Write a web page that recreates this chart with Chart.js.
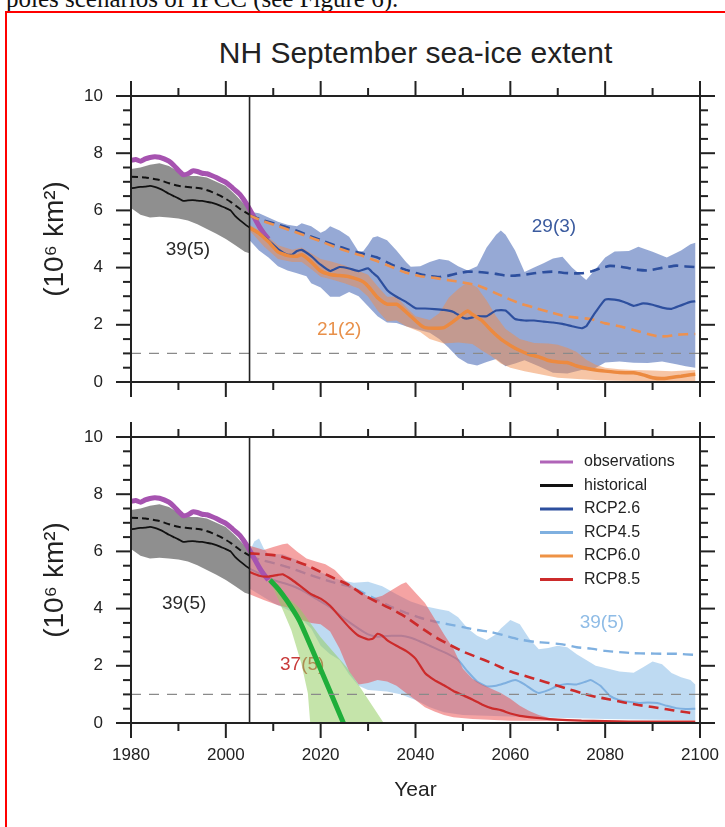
<!DOCTYPE html>
<html>
<head>
<meta charset="utf-8">
<script src="https://cdn.jsdelivr.net/npm/chart.js@4.4.1/dist/chart.umd.min.js"></script>
<style>
  html, body { margin: 0; padding: 0; background: #fff; }
  #page { position: relative; width: 725px; height: 827px; overflow: hidden; font-family: 'Liberation Sans', Arial, sans-serif; }
  #lead { position: absolute; left: 6px; top: -15px; font: 25px 'Liberation Serif', 'Times New Roman', serif; white-space: nowrap; color: #111; }
  #box { position: absolute; left: 5px; top: 11px; width: 780px; height: 880px; border: 2px solid #f00; box-sizing: border-box; }
  #title { position: absolute; left: 131px; width: 569px; top: 36px; text-align: center; font-size: 30px; color: #222; }
  canvas { position: absolute; left: 0; }
</style>
</head>
<body>
<div id="page">
  <div id="lead">poles scenarios of IPCC (see Figure 6).</div>
  <div id="box"></div>
  <div id="title">NH September sea-ice extent</div>
  <canvas id="topPanel" width="725" height="420" style="top:0"></canvas>
  <canvas id="bottomPanel" width="725" height="407" style="top:420px"></canvas>
</div>
<script>
// --- axis labels ---
const yearLabels = [1980, 2000, 2020, 2040, 2060, 2080, 2100];
const extentLabels = [0, 2, 4, 6, 8, 10];

// --- observations and historical runs (10^6 km^2) ---
const observations = [[1980,7.75],[1981,7.78],[1982,7.72],[1983,7.8],[1984,7.85],[1985,7.88],[1986,7.86],[1987,7.8],[1988,7.72],[1989,7.58],[1990,7.4],[1991,7.25],[1992,7.28],[1993,7.38],[1994,7.36],[1995,7.3],[1996,7.28],[1997,7.22],[1998,7.15],[1999,7.06],[2000,6.98],[2001,6.85],[2002,6.7],[2003,6.55],[2004,6.32],[2005,6.05],[2006,5.75],[2007,5.45],[2008,5.2],[2009,5.0]];
const histSubset = [[1980,6.77],[1981,6.8],[1982,6.82],[1983,6.83],[1984,6.86],[1985,6.82],[1986,6.76],[1987,6.68],[1988,6.58],[1989,6.5],[1990,6.42],[1991,6.33],[1992,6.35],[1993,6.36],[1994,6.34],[1995,6.33],[1996,6.3],[1997,6.27],[1998,6.22],[1999,6.15],[2000,6.08],[2001,6.0],[2002,5.8],[2003,5.65],[2004,5.52],[2005,5.4]];
const histAll = [[1980,7.18],[1983,7.15],[1986,7.06],[1988,6.95],[1990,6.86],[1993,6.8],[1995,6.76],[1997,6.65],[1999,6.5],[2001,6.3],[2003,6.05],[2005,5.85]];
const histHigh = [[1980,7.45],[1982,7.5],[1984,7.6],[1986,7.65],[1988,7.55],[1990,7.35],[1992,7.2],[1994,7.2],[1996,7.15],[1998,7.0],[2000,6.85],[2002,6.55],[2004,6.2],[2005,6.0]];
const histLow = [[1980,6.08],[1982,5.85],[1984,5.75],[1986,5.78],[1988,5.75],[1990,5.72],[1992,5.65],[1994,5.52],[1996,5.35],[1998,5.18],[2000,5.0],[2002,4.78],[2004,4.55],[2005,4.5]];

// --- RCP2.6 ---
const rcp26Subset = [[2005,5.4],[2007,5.2],[2009,4.95],[2011,4.65],[2013,4.45],[2014,4.45],[2015,4.58],[2016,4.62],[2018,4.4],[2020,4.1],[2022,3.88],[2024,4.02],[2026,3.97],[2028,3.88],[2030,3.97],[2031,3.82],[2032,3.68],[2034,3.22],[2036,2.98],[2038,2.8],[2040,2.58],[2042,2.57],[2044,2.55],[2046,2.52],[2048,2.45],[2050,2.25],[2051,2.22],[2053,2.3],[2055,2.3],[2057,2.5],[2059,2.5],[2061,2.2],[2063,2.15],[2065,2.15],[2067,2.11],[2069,2.08],[2071,2.03],[2073,1.95],[2075,1.88],[2076,1.95],[2077,2.2],[2078,2.45],[2080,2.88],[2082,2.88],[2084,2.8],[2086,2.66],[2088,2.75],[2090,2.7],[2092,2.6],[2094,2.56],[2096,2.68],[2098,2.8],[2099,2.82]];
const rcp26All = [[2005,5.82],[2008,5.65],[2011,5.5],[2014,5.35],[2017,5.15],[2020,4.96],[2023,4.78],[2026,4.62],[2029,4.48],[2032,4.35],[2035,4.1],[2038,3.92],[2041,3.77],[2043,3.7],[2045,3.67],[2047,3.72],[2049,3.8],[2051,3.86],[2053,3.85],[2055,3.82],[2057,3.78],[2059,3.72],[2061,3.72],[2063,3.75],[2065,3.8],[2067,3.84],[2069,3.86],[2071,3.82],[2073,3.8],[2075,3.8],[2077,3.86],[2079,3.98],[2081,4.06],[2083,4.04],[2085,3.98],[2087,3.92],[2089,3.9],[2091,3.96],[2093,4.02],[2095,4.07],[2097,4.04],[2099,4.02]];
const rcp26High = [[2005,5.95],[2007,5.9],[2009,5.75],[2011,5.6],[2013,5.5],[2015,5.45],[2016,5.55],[2018,5.45],[2020,5.22],[2021,5.3],[2022,5.45],[2024,5.3],[2026,5.08],[2028,4.55],[2029,4.58],[2030,4.8],[2031,5.05],[2032,5.1],[2034,4.96],[2036,4.6],[2038,4.2],[2039,4.03],[2041,4.05],[2043,4.2],[2045,4.3],[2047,4.25],[2049,4.05],[2051,3.9],[2053,4.05],[2055,4.7],[2057,5.15],[2058,5.3],[2059,5.15],[2061,4.6],[2063,3.85],[2065,4.0],[2067,4.15],[2069,4.32],[2071,4.38],[2073,4.0],[2076,3.57],[2078,3.95],[2080,4.35],[2082,4.56],[2085,4.58],[2087,4.73],[2090,4.55],[2093,4.35],[2096,4.6],[2098,4.82],[2099,4.87]];
const rcp26Low = [[2005,4.96],[2007,4.6],[2009,4.35],[2011,4.05],[2013,3.9],[2015,3.8],[2017,3.7],[2018,3.45],[2020,3.3],[2022,2.98],[2024,2.98],[2026,3.15],[2028,3.0],[2030,2.65],[2032,2.3],[2034,2.08],[2036,2.06],[2038,1.95],[2040,1.85],[2043,1.72],[2045,1.5],[2047,1.2],[2049,0.85],[2051,0.65],[2053,0.58],[2055,0.7],[2057,0.8],[2059,0.55],[2061,0.65],[2063,0.76],[2066,0.55],[2069,0.32],[2072,0.3],[2075,0.42],[2077,0.4],[2080,0.68],[2083,0.72],[2086,0.67],[2089,0.66],[2092,0.72],[2095,0.62],[2097,0.55],[2099,0.5]];

// --- RCP6.0 ---
const rcp60Subset = [[2005,5.4],[2007,5.2],[2009,4.9],[2011,4.55],[2013,4.42],[2015,4.4],[2016,4.45],[2018,4.2],[2020,3.88],[2022,3.76],[2024,3.72],[2026,3.68],[2028,3.58],[2029,3.5],[2030,3.35],[2031,3.15],[2032,2.95],[2034,2.72],[2036,2.72],[2037,2.6],[2039,2.3],[2041,2.0],[2042,1.9],[2044,1.88],[2046,1.9],[2048,2.12],[2050,2.38],[2051,2.48],[2052,2.36],[2054,2.15],[2056,1.8],[2058,1.5],[2060,1.28],[2062,1.1],[2064,0.96],[2066,0.88],[2068,0.75],[2070,0.7],[2072,0.68],[2074,0.56],[2076,0.48],[2078,0.42],[2080,0.38],[2083,0.33],[2086,0.32],[2088,0.25],[2090,0.15],[2092,0.12],[2094,0.16],[2096,0.2],[2098,0.25],[2099,0.27]];
const rcp60All = [[2005,5.82],[2008,5.62],[2011,5.45],[2014,5.28],[2017,5.1],[2020,4.92],[2023,4.72],[2026,4.55],[2029,4.4],[2032,4.22],[2035,4.02],[2038,3.82],[2041,3.7],[2044,3.64],[2047,3.56],[2050,3.48],[2053,3.38],[2055,3.25],[2057,3.1],[2060,2.88],[2062,2.75],[2065,2.6],[2068,2.46],[2071,2.32],[2074,2.25],[2077,2.2],[2080,2.05],[2083,1.95],[2086,1.82],[2089,1.68],[2091,1.6],[2093,1.6],[2095,1.65],[2097,1.67],[2099,1.68]];
const rcp60High = [[2005,5.5],[2008,5.2],[2011,4.78],[2014,4.62],[2016,4.7],[2018,4.5],[2020,4.3],[2022,4.22],[2025,4.08],[2028,3.88],[2030,3.75],[2032,3.35],[2034,2.98],[2036,2.98],[2038,2.62],[2040,2.3],[2043,2.17],[2045,2.4],[2047,2.95],[2049,3.25],[2051,3.5],[2053,3.3],[2055,2.85],[2057,2.3],[2059,1.85],[2062,1.5],[2065,1.36],[2068,1.35],[2070,1.3],[2072,1.2],[2074,1.05],[2076,0.78],[2078,0.6],[2080,0.5],[2083,0.45],[2086,0.42],[2090,0.4],[2094,0.38],[2097,0.4],[2099,0.42]];
const rcp60Low = [[2005,5.3],[2008,4.75],[2011,4.3],[2014,4.2],[2016,4.2],[2018,3.95],[2020,3.68],[2022,3.6],[2025,3.45],[2028,3.28],[2030,2.98],[2032,2.5],[2034,2.12],[2036,2.15],[2038,1.95],[2041,1.75],[2043,1.5],[2046,1.35],[2049,1.38],[2052,1.33],[2054,1.1],[2056,0.9],[2058,0.65],[2060,0.5],[2063,0.38],[2066,0.28],[2070,0.15],[2075,0.1],[2080,0.05],[2090,0.03],[2099,0.03]];

// --- RCP4.5 ---
const rcp45Subset = [[2005,5.4],[2008,5.15],[2010,5.0],[2013,4.85],[2016,4.65],[2019,4.35],[2022,4.05],[2025,3.65],[2028,3.3],[2030,3.1],[2032,3.02],[2035,3.05],[2037,3.05],[2039,2.98],[2041,2.85],[2043,2.7],[2045,2.55],[2047,2.4],[2049,2.2],[2051,1.8],[2053,1.45],[2055,1.28],[2057,1.3],[2059,1.4],[2061,1.5],[2063,1.35],[2065,1.12],[2066,1.05],[2068,1.15],[2070,1.3],[2072,1.36],[2074,1.35],[2076,1.45],[2077,1.5],[2079,1.3],[2081,0.95],[2083,0.8],[2085,0.74],[2087,0.7],[2089,0.72],[2091,0.7],[2093,0.6],[2095,0.52],[2097,0.49],[2099,0.5]];
const rcp45All = [[2005,5.82],[2008,5.68],[2011,5.55],[2014,5.4],[2017,5.22],[2020,5.05],[2023,4.9],[2026,4.78],[2029,4.55],[2032,4.3],[2035,4.05],[2038,3.85],[2041,3.68],[2044,3.55],[2047,3.45],[2050,3.35],[2053,3.25],[2056,3.18],[2059,3.05],[2062,2.92],[2065,2.84],[2068,2.8],[2071,2.75],[2074,2.65],[2077,2.6],[2080,2.52],[2083,2.48],[2086,2.44],[2089,2.43],[2092,2.42],[2095,2.42],[2099,2.38]];
const rcp45High = [[2005,6.0],[2006,6.35],[2007,6.45],[2008,6.1],[2009,5.9],[2012,5.9],[2015,5.7],[2018,5.4],[2021,5.2],[2024,5.0],[2027,4.9],[2030,4.94],[2033,4.78],[2036,4.5],[2039,4.25],[2042,4.08],[2045,3.98],[2047,3.92],[2049,3.7],[2051,3.3],[2053,3.05],[2055,2.9],[2057,3.1],[2058,3.3],[2060,3.6],[2062,3.45],[2064,2.95],[2066,2.58],[2068,2.62],[2070,2.7],[2072,2.65],[2074,2.4],[2076,2.2],[2078,2.0],[2080,1.92],[2083,1.8],[2086,1.76],[2088,1.95],[2090,2.15],[2092,2.05],[2094,1.75],[2096,1.6],[2098,1.5],[2099,1.35]];
const rcp45Low = [[2005,4.7],[2010,4.2],[2015,3.8],[2018,3.3],[2020,2.7],[2022,2.4],[2024,2.2],[2026,1.7],[2028,1.3],[2030,1.15],[2034,1.1],[2037,1.0],[2040,0.8],[2043,0.55],[2046,0.38],[2050,0.28],[2055,0.25],[2065,0.2],[2080,0.14],[2099,0.1]];

// --- RCP8.5 ---
const rcp85Subset = [[2005,5.28],[2007,5.15],[2009,5.12],[2011,5.18],[2012,5.2],[2014,5.0],[2016,4.75],[2018,4.5],[2020,4.35],[2022,4.1],[2024,3.72],[2026,3.35],[2028,3.05],[2030,2.92],[2031,2.95],[2032,3.12],[2033,3.05],[2034,2.9],[2036,2.7],[2038,2.52],[2040,2.25],[2042,1.75],[2044,1.5],[2046,1.32],[2048,1.12],[2050,0.97],[2052,0.82],[2054,0.65],[2056,0.52],[2058,0.45],[2060,0.33],[2062,0.25],[2065,0.19],[2069,0.13],[2075,0.08],[2085,0.05],[2099,0.05]];
const rcp85All = [[2005,5.93],[2008,5.9],[2011,5.85],[2014,5.7],[2017,5.52],[2020,5.28],[2023,5.05],[2026,4.82],[2029,4.48],[2032,4.22],[2035,3.98],[2038,3.7],[2041,3.35],[2044,3.02],[2047,2.75],[2050,2.5],[2053,2.3],[2056,2.1],[2058,1.95],[2060,1.8],[2063,1.65],[2066,1.5],[2069,1.35],[2072,1.2],[2075,1.05],[2078,0.92],[2081,0.82],[2084,0.72],[2087,0.63],[2090,0.56],[2093,0.48],[2096,0.4],[2099,0.33]];
const rcp85High = [[2005,6.2],[2007,6.1],[2008,6.05],[2010,6.15],[2012,6.25],[2013,6.28],[2015,6.0],[2017,5.75],[2019,5.65],[2021,5.55],[2023,5.35],[2025,5.0],[2027,4.75],[2029,4.52],[2031,4.35],[2033,4.45],[2035,4.65],[2037,4.85],[2038,4.92],[2040,4.55],[2042,4.2],[2044,3.65],[2046,3.1],[2048,2.6],[2050,1.9],[2052,1.55],[2054,1.35],[2056,1.2],[2058,1.05],[2060,0.85],[2062,0.6],[2064,0.42],[2066,0.28],[2068,0.18],[2072,0.1],[2080,0.08],[2099,0.06]];
const rcp85Low = [[2005,4.5],[2008,4.3],[2011,4.12],[2014,4.0],[2016,3.6],[2018,3.5],[2020,3.45],[2022,3.2],[2024,2.6],[2026,1.8],[2028,1.35],[2030,1.4],[2032,1.5],[2034,1.45],[2036,1.3],[2038,1.05],[2040,0.8],[2042,0.55],[2044,0.4],[2046,0.28],[2048,0.2],[2052,0.14],[2060,0.08],[2099,0.05]];

// --- observation-based extrapolation (green) ---
const obsTrend = [[2009.3,5.0],[2011,4.7],[2013,4.25],[2015.6,3.55],[2020.2,1.8],[2024.8,0]];
const obsTrendHigh = [[2009.3,5.0],[2012,4.55],[2015.6,4.0],[2020,3.0],[2025.5,1.95],[2029.5,0.95],[2033.3,0]];
const obsTrendLow = [[2009.3,5.0],[2011.7,4.07],[2013.8,3.25],[2015.9,2.1],[2017.3,1.04],[2017.8,0]];

// --- model counts printed on the panels ---
const notesTop = [
  {text: '39(5)', year: 1992.0, value: 4.62, color: '#2a2a2a'},
  {text: '21(2)', year: 2023.9, value: 1.82, color: '#e8904a'},
  {text: '29(3)', year: 2069.2, value: 5.42, color: '#3b5b9f'}
];
const notesBottom = [
  {text: '39(5)', year: 1991.2, value: 4.16, color: '#2a2a2a'},
  {text: '37(5)', year: 2016.1, value: 2.03, color: '#c93a3a'},
  {text: '39(5)', year: 2079.3, value: 3.5, color: '#8fbce6'}
];
const legendNames = ['observations', 'historical', 'RCP2.6', 'RCP4.5', 'RCP6.0', 'RCP8.5'];
const legendColors = ['#b064b8', '#111111', '#2d4f9e', '#7fb0e0', '#ee9245', '#cc2b2b'];

const FONT = "'Liberation Sans', Arial, sans-serif";

const pts = arr => arr.map(([x, y]) => ({x, y}));
const line = (arr, color, width, dash) => ({
  data: pts(arr), borderColor: color, borderWidth: width, borderDash: dash || [],
  pointRadius: 0, fill: false, tension: 0.15
});
const band = (high, low, color) => ({
  data: pts(high.concat(low.slice().reverse())), backgroundColor: color,
  borderWidth: 0, pointRadius: 0, fill: 'shape', tension: 0
});
// first in list = painted first (bottom)
const stack = list => list.map((d, i) => Object.assign(d, {order: list.length - i}));

// frame, outward ticks, 2005 divider and the 1 million km2 reference
const frameTicks = {
  id: 'frameTicks',
  afterDraw(chart) {
    const {ctx, chartArea: a, scales: {x, y}} = chart;
    const seg = (x0, y0, x1, y1) => { ctx.beginPath(); ctx.moveTo(x0, y0); ctx.lineTo(x1, y1); ctx.stroke(); };
    ctx.save();
    ctx.strokeStyle = '#8a8a8a'; ctx.lineWidth = 1.3; ctx.setLineDash([10, 8]);
    seg(a.left, y.getPixelForValue(1), a.right, y.getPixelForValue(1));
    ctx.setLineDash([]);
    ctx.strokeStyle = '#222'; ctx.lineWidth = 1.6;
    seg(x.getPixelForValue(2005), a.top, x.getPixelForValue(2005), a.bottom);
    ctx.lineWidth = 2;
    ctx.strokeRect(a.left, a.top, a.right - a.left, a.bottom - a.top);
    const xs = [];
    yearLabels.forEach((v, i) => {
      xs.push([v, 15]);
      if (i < yearLabels.length - 1) xs.push([(v + yearLabels[i + 1]) / 2, 8]);
    });
    xs.forEach(([v, len]) => {
      const px = x.getPixelForValue(v);
      seg(px, a.top, px, a.top - len);
      seg(px, a.bottom, px, a.bottom + len);
    });
    const ys = [];
    extentLabels.forEach((v, i) => {
      ys.push([v, 15]);
      if (i < extentLabels.length - 1) {
        const step = (extentLabels[i + 1] - v) / 4;
        for (let k = 1; k < 4; k++) ys.push([v + k * step, 8]);
      }
    });
    ys.forEach(([v, len]) => {
      const py = y.getPixelForValue(v);
      seg(a.left, py, a.left - len, py);
      seg(a.right, py, a.right + len, py);
    });
    ctx.restore();
  }
};

const notes = {
  id: 'notes',
  beforeDatasetsDraw(chart, args, opts) {
    const {ctx, scales: {x, y}} = chart;
    ctx.save();
    ctx.font = '19px ' + FONT;
    ctx.textAlign = 'center';
    ctx.textBaseline = 'middle';
    (opts.items || []).forEach(n => {
      ctx.fillStyle = n.color;
      ctx.fillText(n.text, x.getPixelForValue(n.year), y.getPixelForValue(n.value));
    });
    ctx.restore();
  }
};

const keyBox = {
  id: 'keyBox',
  afterDraw(chart, args, opts) {
    if (!opts.show) return;
    const {ctx, chartArea: a} = chart;
    ctx.save();
    ctx.font = '16px ' + FONT;
    ctx.textBaseline = 'middle';
    ctx.lineWidth = 3;
    legendNames.forEach((name, i) => {
      const yy = a.top + 25 + i * 23.5;
      ctx.strokeStyle = legendColors[i];
      ctx.beginPath(); ctx.moveTo(a.right - 160, yy); ctx.lineTo(a.right - 127, yy); ctx.stroke();
      ctx.fillStyle = '#222';
      ctx.fillText(name, a.right - 116, yy);
    });
    ctx.restore();
  }
};

function scalesFor(bottom, xHeight) {
  return {
    x: {
      type: 'linear', min: 1980, max: 2100,
      afterFit: s => { s.height = xHeight; s.paddingLeft = 0; s.paddingRight = 0; },
      afterBuildTicks: s => { s.ticks = yearLabels.map(v => ({value: v})); },
      grid: {display: false, drawTicks: false},
      border: {display: false},
      ticks: {display: bottom, padding: 22, color: '#222', font: {family: FONT, size: 17},
              maxRotation: 0, autoSkip: false, callback: v => String(v)},
      title: {display: bottom, text: 'Year', color: '#222', font: {family: FONT, size: 21},
              padding: {top: 0, bottom: 24}}
    },
    y: {
      min: 0, max: 10,
      afterFit: s => { s.width = 131; s.paddingTop = 0; s.paddingBottom = 0; },
      afterBuildTicks: s => { s.ticks = extentLabels.map(v => ({value: v})); },
      grid: {display: false, drawTicks: false},
      border: {display: false},
      ticks: {padding: 28, color: '#222', font: {family: FONT, size: 17}, callback: v => String(v)},
      title: {display: true, text: '(10\u2076 km\u00b2)', color: '#222', font: {family: FONT, size: 28},
              padding: {top: 38, bottom: 0}}
    }
  };
}

function baseOptions(bottom, padTop, xHeight, items) {
  return {
    responsive: false, animation: false, devicePixelRatio: 1, events: [],
    layout: {padding: {top: padTop, right: 25, bottom: 0, left: 0}},
    scales: scalesFor(bottom, xHeight),
    plugins: {legend: {display: false}, tooltip: {enabled: false},
              notes: {items}, keyBox: {show: bottom}}
  };
}

const histLayers = () => [
  line(histAll, '#111', 2, [7, 4]),
  line(histSubset, '#111', 1.8),
  line(observations, '#a653b0', 5)
];

new Chart(document.getElementById('topPanel'), {
  type: 'line',
  data: {datasets: stack([
    band(histHigh, histLow, 'rgba(118,118,118,0.82)'),
    band(rcp26High, rcp26Low, 'rgba(80,112,185,0.6)'),
    band(rcp60High, rcp60Low, 'rgba(240,140,75,0.5)'),
    ...histLayers(),
    line(rcp26All, '#2d4f9e', 2.6, [10, 6]),
    line(rcp60All, '#ec9150', 2.6, [10, 6]),
    line(rcp26Subset, '#2d4f9e', 2.2),
    line(rcp60Subset, '#ec8a40', 3.5)
  ])},
  options: baseOptions(false, 96, 38, notesTop),
  plugins: [notes, frameTicks, keyBox]
});

new Chart(document.getElementById('bottomPanel'), {
  type: 'line',
  data: {datasets: stack([
    band(histHigh, histLow, 'rgba(118,118,118,0.82)'),
    band(rcp45High, rcp45Low, 'rgba(125,182,230,0.5)'),
    line(rcp45All, '#7fb0e0', 2.4, [10, 6]),
    line(rcp45Subset, '#7fb0e0', 2),
    band(rcp85High, rcp85Low, 'rgba(236,72,72,0.5)'),
    ...histLayers(),
    line(rcp85All, '#cc2b2b', 2.6, [10, 6]),
    line(rcp85Subset, '#cc2b2b', 2.2),
    band(obsTrendHigh, obsTrendLow, 'rgba(150,205,100,0.55)'),
    line(obsTrend, '#1fae3a', 5)
  ])},
  options: baseOptions(true, 17, 104, notesBottom),
  plugins: [notes, frameTicks, keyBox]
});
</script>
</body>
</html>
